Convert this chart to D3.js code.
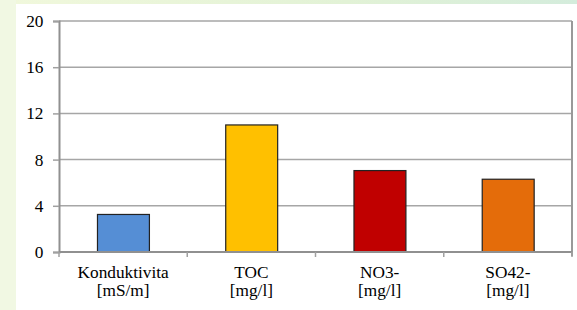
<!DOCTYPE html>
<html><head><meta charset="utf-8">
<script src="https://cdn.jsdelivr.net/npm/d3@7"></script>
<style>html,body{margin:0;padding:0;background:#fff;}svg{display:block;}</style>
</head><body>
<svg id="c" width="577" height="310"></svg>
<script>
const categories = ["Konduktivita|[mS/m]", "TOC|[mg/l]", "NO3-|[mg/l]", "SO42-|[mg/l]"];
const values = [3.25, 11.0, 7.05, 6.3];
const colors = ["#558ED5", "#FFC000", "#C00000", "#E46C0A"];
const yTicks = [0, 4, 8, 12, 16, 20];

const FONT = '"Liberation Serif"';
const FS = 16, SX = 1.08;
const svg = d3.select("#c");
const defs = svg.append("defs");
const g1 = defs.append("linearGradient").attr("id","topg").attr("x1","0").attr("x2","1");
g1.append("stop").attr("offset","0").attr("stop-color","#f1f8dc");
g1.append("stop").attr("offset","0.6").attr("stop-color","#e2f2d6");
g1.append("stop").attr("offset","1").attr("stop-color","#d4ecdc");
svg.append("rect").attr("x",0).attr("y",0).attr("width",577).attr("height",310).attr("fill","#fff");
svg.append("rect").attr("x",0).attr("y",0).attr("width",577).attr("height",4).attr("fill","url(#topg)");
svg.append("rect").attr("x",0).attr("y",0).attr("width",16).attr("height",310).attr("fill","#f1f8e3");

const L = 59, R = 572, T = 21, B = 252;
const x = d3.scaleBand().domain(categories).range([L, R]).paddingInner(0).paddingOuter(0);
const y = d3.scaleLinear().domain([0, 20]).range([B, T]);

// gridlines
svg.append("g").selectAll("line").data(yTicks.filter(d => d > 0)).join("line")
  .attr("x1", L).attr("x2", R).attr("y1", d => y(d)).attr("y2", d => y(d))
  .attr("stroke", "#a6a6a6").attr("stroke-width", 1.5);
// right border
svg.append("line").attr("x1", R).attr("x2", R).attr("y1", T).attr("y2", B + 4)
  .attr("stroke", "#999").attr("stroke-width", 2);

// y axis
const yAxis = d3.axisLeft(y).tickValues(yTicks).tickSize(6).tickPadding(0).tickFormat(d3.format("d"));
const ya = svg.append("g").attr("transform", `translate(${L},0)`).call(yAxis);
ya.select(".domain").attr("stroke", "#909090").attr("stroke-width", 2);
ya.selectAll(".tick line").attr("stroke", "#a0a0a0").attr("stroke-width", 1.5);
ya.selectAll(".tick text")
  .attr("x", null).attr("dy", null).attr("y", 5.5)
  .attr("transform", `translate(-15.5,0) scale(${SX},1)`)
  .style("font-family", FONT).style("font-size", FS + "px").attr("fill", "#000");

// bars
svg.append("g").selectAll("rect").data(values).join("rect")
  .attr("x", (d, i) => x(categories[i]) + x.bandwidth() * 0.3)
  .attr("width", x.bandwidth() * 0.405)
  .attr("y", d => y(d))
  .attr("height", d => B - y(d))
  .attr("fill", (d, i) => colors[i])
  .attr("stroke", "#222").attr("stroke-width", 1.2);

// x axis
svg.append("line").attr("x1", L).attr("x2", R).attr("y1", B).attr("y2", B)
  .attr("stroke", "#909090").attr("stroke-width", 2);
svg.append("g").selectAll("line").data(d3.range(categories.length + 1)).join("line")
  .attr("x1", i => L + i * x.step()).attr("x2", i => L + i * x.step())
  .attr("y1", B).attr("y2", B + 5).attr("stroke", "#a0a0a0").attr("stroke-width", 1.5);

// category labels
const lab = svg.append("g").selectAll("text").data(categories).join("text")
  .attr("transform", d => `translate(${x(d) + x.bandwidth() / 2},277.5) scale(${SX},1)`)
  .attr("text-anchor", "middle")
  .style("font-family", FONT)
  .style("font-size", FS + "px").attr("fill", "#000");
lab.each(function(d) {
  const parts = d.split("|");
  d3.select(this).selectAll("tspan").data(parts).join("tspan")
    .attr("x", 0)
    .attr("dy", (p, i) => i === 0 ? 0 : 18.5)
    .text(p => p);
});
</script>
</body></html>
